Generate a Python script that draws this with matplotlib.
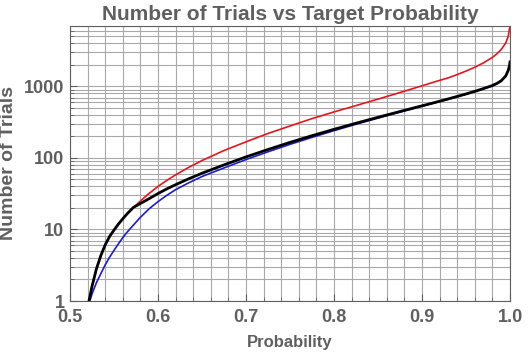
import numpy as np
import matplotlib
matplotlib.use("Agg")
import matplotlib.pyplot as plt
from matplotlib.ticker import FixedLocator, LogLocator, NullFormatter

# values
prob = [0.525, 0.53, 0.535, 0.54, 0.545, 0.55, 0.555, 0.56, 0.565, 0.572,
        0.58, 0.59, 0.60, 0.61, 0.62, 0.635, 0.65, 0.675, 0.70, 0.725, 0.75, 0.775,
        0.80, 0.825, 0.85, 0.875, 0.90, 0.915, 0.93, 0.94, 0.95, 0.96, 0.97, 0.98,
        0.985, 0.99, 0.995, 0.998, 0.9995, 1.0]

prob_red = [0.5216] + prob
trials_red = [1, 1.6, 2.8, 4.3, 6.1, 8.0, 9.8, 11.9, 14.1, 16.6, 20.3,
              25, 32, 40, 48.5, 58, 74, 92, 127, 168, 220, 280, 355,
              440, 540, 665, 822, 1020, 1165, 1320, 1465, 1640, 1855, 2140, 2550,
              2850, 3280, 4020, 5010, 6550, 7000]

prob_black = [0.5216] + prob
trials_black = [1, 1.6, 2.8, 4.3, 6.1, 8.0, 9.8, 11.9, 14.1, 16.6, 20.3,
                23.1, 27.0, 31.8, 36.9, 42.3, 51.2, 61.1, 80, 103.4, 131.3, 165, 204.7,
                251.5, 306, 370, 446, 536, 598, 670, 725, 785, 854, 935, 1030,
                1100, 1200, 1395, 1677, 1980, 2200]

prob_blue = [0.5225] + prob
trials_blue = [1, 1.25, 1.8, 2.4, 3.2, 4.1, 5.1, 6.3, 7.7, 9.2, 11.5,
               14.8, 19.5, 24.5, 30, 36, 45, 55, 72.5, 95, 122, 155, 194,
               241, 296, 361, 438, 528, 592, 663, 718, 777, 845, 926, 1020,
               1089, 1188, 1381, 1660, 1960, 2178]

grey = "#5f5f5f"
font = "Liberation Sans"

fig = plt.figure(figsize=(5.29, 3.54), dpi=100)
ax = fig.add_axes([0.1323, 0.1497, 0.8318, 0.7769])

ax.plot(prob_red, trials_red, color="#e8141c", lw=1.2)
ax.plot(prob_blue, trials_blue, color="#1a1ad8", lw=1.2)
ax.plot(prob_black, trials_black, color="black", lw=2.0)

ax.set_yscale("log")
ax.set_xlim(0.5, 1.0)
ax.set_ylim(1, 7000)

ax.set_xticks([0.5, 0.6, 0.7, 0.8, 0.9, 1.0])
ax.set_xticklabels(["0.5", "0.6", "0.7", "0.8", "0.9", "1.0"])
ax.xaxis.set_minor_locator(FixedLocator(np.arange(0.5, 1.001, 0.02)))
ax.set_yticks([1, 10, 100, 1000])
ax.set_yticklabels(["1", "10", "100", "1000"])
ax.yaxis.set_minor_locator(LogLocator(base=10, subs=range(2, 10)))
ax.yaxis.set_minor_formatter(NullFormatter())

ax.grid(True, which="both", color="#a8a8a8", lw=0.8)
ax.set_axisbelow(True)

ax.tick_params(which="both", direction="in", colors=grey, labelsize=13)
ax.tick_params(which="major", length=5)
ax.tick_params(which="minor", length=3)
ax.tick_params(axis="x", pad=6)
ax.tick_params(axis="y", pad=4)
for lab in ax.get_xticklabels() + ax.get_yticklabels():
    lab.set_fontweight("bold")
    lab.set_fontfamily(font)
    lab.set_color(grey)
for s in ax.spines.values():
    s.set_color(grey)

ax.set_title("Number of Trials vs Target Probability", fontsize=15, fontweight="bold",
             color=grey, family=font, pad=4)
ax.set_xlabel("Probability", fontsize=12, fontweight="bold", color=grey, family=font,
              labelpad=6)
ax.set_ylabel("Number of Trials", fontsize=14, fontweight="bold", color=grey, family=font,
              labelpad=5)

fig.savefig("out.png", dpi=100)
